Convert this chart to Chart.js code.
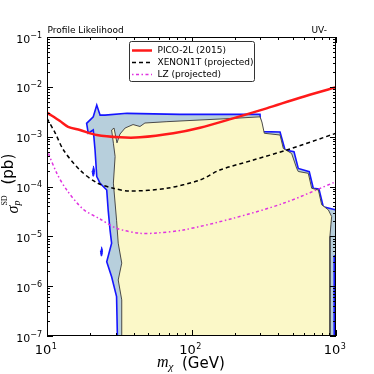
<!DOCTYPE html>
<html>
<head>
<meta charset="utf-8">
<script src="https://cdn.jsdelivr.net/npm/chart.js@4.4.1/dist/chart.umd.min.js"></script>
<style>
  html, body { margin: 0; padding: 0; background: #fff; }
</style>
</head>
<body>
<canvas id="mycanvas" width="374" height="374"></canvas>
<script>
// 2 sigma region (outer, blue outline)
var outerMass  = [30.7, 30.3, 28.0, 25.9, 28.0, 27.3, 26.5, 25.9, 23.3, 22.1, 21.5, 20.9, 19.3, 18.8, 20.9, 22.1, 23.3, 25.2, 35.8, 83.2, 298, 303, 410, 444, 512, 548, 653, 696, 762, 817, 957, 1000, 1000, 972, 972];
var outerSigma = [1e-7, 6.2e-7, 1.55e-6, 3.1e-6, 7.3e-6, 1.34e-5, 3.4e-5, 8.5e-5, 1.16e-4, 1.58e-4, 5.4e-4, 1.36e-3, 1.17e-3, 1.85e-3, 2.5e-3, 4.3e-3, 2.7e-3, 2.7e-3, 2.94e-3, 2.8e-3, 2.8e-3, 1.26e-3, 1.24e-3, 5.4e-4, 5.0e-4, 2.3e-4, 1.98e-4, 9.2e-5, 8.9e-5, 3.9e-5, 3.5e-5, 3.4e-5, 4.2e-6, 4.0e-6, 1e-7];

// 1 sigma region (inner, yellow)
var innerMass  = [32.9, 32.9, 31.1, 32.9, 31.1, 30.3, 28.8, 29.6, 28.8, 28.0, 29.1, 30.5, 32.0, 34.7, 39.4, 44.0, 47.6, 67.6, 114.5, 194, 284, 298, 307, 319, 410, 432, 493, 535, 548, 643, 679, 755, 796, 885, 933, 922, 908, 908];
var innerSigma = [1e-7, 5.3e-7, 1.33e-6, 2.9e-6, 7.3e-6, 2.1e-5, 1.17e-4, 4.0e-4, 7.4e-4, 1.36e-3, 1.49e-3, 7.5e-4, 1.13e-3, 1.49e-3, 1.75e-3, 1.6e-3, 1.88e-3, 2.0e-3, 2.16e-3, 2.33e-3, 2.48e-3, 2.5e-3, 1.97e-3, 1.17e-3, 1.08e-3, 5.8e-4, 4.6e-4, 2.3e-4, 2.0e-4, 1.84e-4, 9.2e-5, 8.5e-5, 4.3e-5, 3.4e-5, 2.5e-5, 1.7e-5, 1.0e-5, 1e-7];

// small 2 sigma islands
var islandAMass  = [20.9, 21.3, 20.9, 20.5];
var islandASigma = [2.6e-4, 2.05e-4, 1.6e-4, 2.05e-4];
var islandBMass  = [23.8, 24.2, 23.8, 23.4];
var islandBSigma = [6.2e-6, 5.1e-6, 4.0e-6, 5.1e-6];

// limits
var picoMass  = [10, 12.3, 14.0, 16.9, 22.1, 32.0, 44.0, 74.8, 114.5, 194, 331, 563, 1000];
var picoSigma = [3.03e-3, 2.06e-3, 1.58e-3, 1.36e-3, 1.08e-3, 9.7e-4, 9.7e-4, 1.17e-3, 1.51e-3, 2.33e-3, 3.7e-3, 6.05e-3, 9.8e-3];
var xenonMass  = [10, 11.4, 13.0, 16.9, 22.1, 28.8, 37.5, 67.3, 114.5, 157, 268, 456, 1000];
var xenonSigma = [2.33e-3, 1.18e-3, 5.4e-4, 2.14e-4, 1.19e-4, 9.2e-5, 8.1e-5, 9.2e-5, 1.35e-4, 2.14e-4, 3.4e-4, 5.4e-4, 1.17e-3];
var lzMass  = [10, 11.7, 13.7, 17.8, 23.3, 30.3, 44.0, 57.4, 87.7, 194, 432, 1000];
var lzSigma = [5.4e-4, 1.84e-4, 8.5e-5, 3.5e-5, 2.23e-5, 1.45e-5, 1.15e-5, 1.17e-5, 1.34e-5, 2.3e-5, 4.6e-5, 1.25e-4];

var legendLabels = ['PICO-2L (2015)', 'XENON1T (projected)', 'LZ (projected)'];
var xTicks = [10, 100, 1000];
var xTickExp = ['1', '2', '3'];
var yTicks = [1e-7, 1e-6, 1e-5, 1e-4, 1e-3, 1e-2, 1e-1];
var yTickExp = ['\u22127', '\u22126', '\u22125', '\u22124', '\u22123', '\u22122', '\u22121'];
var titleLeft = 'Profile Likelihood';
var titleRight = 'UV-';

function pts(xs, ys) {
  return xs.map(function(x, i) { return {x: x, y: ys[i]}; });
}

var decor = {
  id: 'decor',
  afterDraw: function(chart) {
    var ctx = chart.ctx, a = chart.chartArea;
    var xs = chart.scales.x, ys = chart.scales.y;
    ctx.save();
    ctx.strokeStyle = '#000';
    ctx.lineWidth = 1;
    ctx.strokeRect(a.left + 0.5, a.top + 0.5, a.right - a.left - 1, a.bottom - a.top - 1);

    // inward ticks
    function tickX(v, len) {
      var p = Math.round(xs.getPixelForValue(v)) + 0.5;
      ctx.beginPath();
      ctx.moveTo(p, a.bottom); ctx.lineTo(p, a.bottom - len);
      ctx.moveTo(p, a.top); ctx.lineTo(p, a.top + len);
      ctx.stroke();
    }
    function tickY(v, len) {
      var p = Math.round(ys.getPixelForValue(v)) + 0.5;
      ctx.beginPath();
      ctx.moveTo(a.left, p); ctx.lineTo(a.left + len, p);
      ctx.moveTo(a.right, p); ctx.lineTo(a.right - len, p);
      ctx.stroke();
    }
    xTicks.forEach(function(d, i) {
      tickX(d, 6);
      if (i < xTicks.length - 1) for (var k = 2; k < 10; k++) tickX(d * k, 3);
    });
    yTicks.forEach(function(d, i) {
      tickY(d, 6);
      if (i < yTicks.length - 1) for (var k = 2; k < 10; k++) tickY(d * k, 3);
    });

    // tick labels
    ctx.fillStyle = '#000';
    ctx.textBaseline = 'alphabetic';
    yTicks.forEach(function(d, i) {
      var p = ys.getPixelForValue(d);
      ctx.font = '8px "DejaVu Sans"';
      ctx.textAlign = 'right';
      var we = ctx.measureText(yTickExp[i]).width;
      ctx.fillText(yTickExp[i], 42, p + 0.5);
      ctx.font = '11px "DejaVu Sans"';
      ctx.fillText('10', 42 - we, p + 5.5);
    });
    xTicks.forEach(function(d, i) {
      var p = xs.getPixelForValue(d);
      ctx.font = '13px "DejaVu Sans"';
      var w10 = ctx.measureText('10').width;
      ctx.font = '8px "DejaVu Sans"';
      var we = ctx.measureText(xTickExp[i]).width;
      var x0 = p - (w10 + we) / 2 - 1.5;
      ctx.textAlign = 'left';
      ctx.font = '13px "DejaVu Sans"';
      ctx.fillText('10', x0, 354);
      ctx.font = '8px "DejaVu Sans"';
      ctx.fillText(xTickExp[i], x0 + w10 + 0.5, 349);
    });

    // titles
    ctx.font = '9px "DejaVu Sans"';
    ctx.textAlign = 'left';
    ctx.fillText(titleLeft, 47.5, 33);
    ctx.fillText(titleRight, 311.5, 33);

    // x axis label: m_chi (GeV)
    ctx.font = 'italic 16px "Liberation Serif"';
    ctx.fillText('m', 157, 367);
    var wm = ctx.measureText('m').width;
    ctx.font = 'italic 11px "Liberation Serif"';
    ctx.fillText('\u03c7', 157 + wm, 369.5);
    ctx.font = '15px "DejaVu Sans"';
    ctx.fillText('(GeV)', 182, 368);

    // y axis label: sigma_p^SD (pb), rotated
    ctx.save();
    ctx.rotate(-Math.PI / 2);
    ctx.font = 'italic 16px "Liberation Serif"';
    ctx.fillText('\u03c3', -213.5, 18);
    var ws = ctx.measureText('\u03c3').width;
    ctx.font = 'italic 10px "Liberation Serif"';
    ctx.fillText('p', -213.5 + ws, 20);
    ctx.font = '8px "Liberation Serif"';
    ctx.fillText('SD', -213.5 + ws, 6.5);
    ctx.font = '15px "DejaVu Sans"';
    ctx.fillText('(pb)', -184.5, 13);
    ctx.restore();

    // legend
    var lx = 129.5, ly = 41.5, lw = 125, lh = 40;
    ctx.fillStyle = '#fff';
    ctx.strokeStyle = '#333';
    ctx.lineWidth = 1;
    ctx.beginPath();
    ctx.roundRect(lx, ly, lw, lh, 2);
    ctx.fill();
    ctx.stroke();
    var rows = [49.5, 61.5, 73.5];
    chart.data.datasets.forEach(function(ds) {
      var idx = legendLabels.indexOf(ds.label);
      if (idx < 0) return;
      var y = Math.round(rows[idx]) + 0.5;
      ctx.save();
      ctx.strokeStyle = ds.borderColor;
      ctx.lineWidth = ds.borderWidth;
      ctx.setLineDash(ds.borderDash || []);
      ctx.beginPath();
      ctx.moveTo(132, y); ctx.lineTo(152, y);
      ctx.stroke();
      ctx.restore();
      ctx.fillStyle = '#000';
      ctx.font = '9px "DejaVu Sans"';
      ctx.textBaseline = 'middle';
      ctx.fillText(ds.label, 157.5, y + 0.5);
      ctx.textBaseline = 'alphabetic';
    });
    ctx.restore();
  }
};

var ctx = document.getElementById('mycanvas');
var chart = new Chart(ctx, {
  type: 'line',
  data: {
    datasets: [
      {
        label: legendLabels[0],
        data: pts(picoMass, picoSigma),
        borderColor: '#ff1a1a', borderWidth: 2.5, tension: 0.3,
        pointRadius: 0, fill: false, order: 1
      },
      {
        label: legendLabels[1],
        data: pts(xenonMass, xenonSigma),
        borderColor: '#000', borderWidth: 1.5, borderDash: [4, 3], tension: 0.3,
        pointRadius: 0, fill: false, order: 2
      },
      {
        label: legendLabels[2],
        data: pts(lzMass, lzSigma),
        borderColor: '#e033e0', borderWidth: 1.5, borderDash: [1.5, 2.5, 3, 2.5], tension: 0.3,
        pointRadius: 0, fill: false, order: 3
      },
      {
        label: '1 sigma',
        data: pts(innerMass, innerSigma),
        borderColor: '#4a4a4a', borderWidth: 1, backgroundColor: '#fbf8c8',
        pointRadius: 0, tension: 0, fill: 'shape', order: 4
      },
      {
        label: '2 sigma',
        data: pts(outerMass, outerSigma),
        borderColor: '#1515ff', borderWidth: 1.6, backgroundColor: '#b7cfdc',
        pointRadius: 0, tension: 0, fill: 'shape', order: 5
      },
      {
        label: 'island A',
        data: pts(islandAMass, islandASigma),
        borderColor: '#1515ff', borderWidth: 1, backgroundColor: '#1515ff',
        pointRadius: 0, tension: 0.4, fill: 'shape', order: 6
      },
      {
        label: 'island B',
        data: pts(islandBMass, islandBSigma),
        borderColor: '#1515ff', borderWidth: 1, backgroundColor: '#1515ff',
        pointRadius: 0, tension: 0.4, fill: 'shape', order: 6
      }
    ]
  },
  options: {
    responsive: false,
    animation: false,
    layout: { padding: { top: 37, right: 38, left: 0, bottom: 0 } },
    plugins: { legend: { display: false }, tooltip: { enabled: false } },
    scales: {
      x: {
        type: 'logarithmic', min: 10, max: 1000,
        grid: { display: false, drawTicks: false },
        border: { display: false },
        ticks: { display: false },
        afterFit: function(s) { s.height = 38; }
      },
      y: {
        type: 'logarithmic', min: 1e-7, max: 1e-1,
        grid: { display: false, drawTicks: false },
        border: { display: false },
        ticks: { display: false },
        afterFit: function(s) { s.width = 47; }
      }
    }
  },
  plugins: [decor]
});
</script>
</body>
</html>
